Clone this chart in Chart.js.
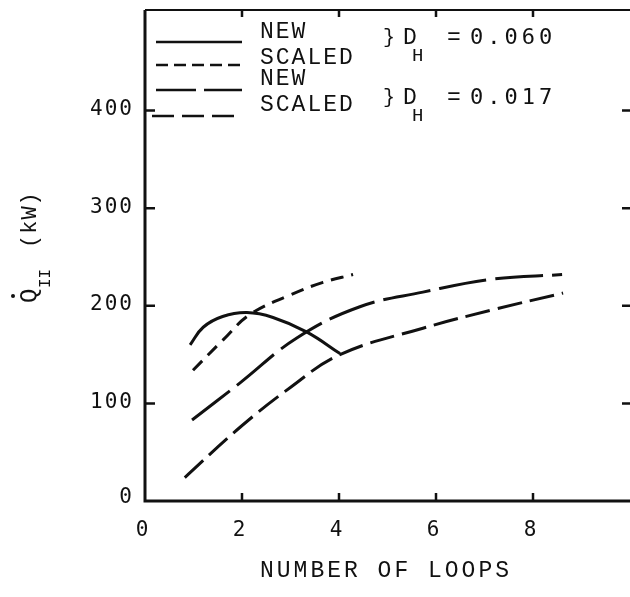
<!DOCTYPE html>
<html lang="en">
<head>
    <meta charset="UTF-8">
    <title>Heat rate vs number of loops</title>
    <style>
        body { margin: 0; background: #fff; }
        canvas { display: block; }
    </style>
</head>
<body>
    <canvas id="chart" width="630" height="597"></canvas>
    <script src="https://cdn.jsdelivr.net/npm/chart.js@4.4.1/dist/chart.umd.min.js"></script>
    <script>
        // values
        const newBigX = [0.93, 1.2, 1.6, 2.1, 2.64, 3.34, 4.02]
        const newBigY = [160, 178, 189, 193, 188, 173, 151]
        const scaledBigX = [0.99, 1.61, 2.16, 2.99, 3.67, 4.29]
        const scaledBigY = [134, 165, 191, 211, 224, 232]
        const newSmallX = [0.97, 1.96, 3.13, 4.43, 5.73, 7.11, 8.6]
        const newSmallY = [83, 121, 167, 199, 214, 227, 232]
        const scaledSmallX = [0.82, 1.9, 2.99, 4.02, 5.73, 7.18, 8.62]
        const scaledSmallY = [24, 73, 116, 150, 177, 196, 213]

        const seriesNames = ['NEW', 'SCALED', 'NEW', 'SCALED']
        const groupValues = ['0.060', '0.017']
        const xTicks = [0, 2, 4, 6, 8]
        const yTicks = [0, 100, 200, 300, 400]
        const xTitle = 'NUMBER OF LOOPS'

        const dashes = [[], [13, 8], [48, 9], [25, 8]]
        const legendDashes = [[], [12, 6], [40, 8], [22, 8]]

        const pts = (xs, ys) => xs.map((x, i) => ({ x: x, y: ys[i] }))

        const series = [
            pts(newBigX, newBigY),
            pts(scaledBigX, scaledBigY),
            pts(newSmallX, newSmallY),
            pts(scaledSmallX, scaledSmallY)
        ]

        const datasets = series.map((data, i) => ({
            label: seriesNames[i],
            data: data,
            borderColor: '#111',
            borderWidth: 3,
            borderDash: dashes[i],
            pointRadius: 0,
            fill: false,
            tension: 0.4
        }))

        const text = (ctx, s, x, y, font, align, spacing) => {
            ctx.font = font
            ctx.letterSpacing = (spacing || 0) + 'px'
            ctx.textAlign = align
            ctx.textBaseline = 'middle'
            ctx.fillText(s, x, y)
        }

        const decor = {
            id: 'decor',
            afterDraw(chart) {
                const ctx = chart.ctx
                const a = chart.chartArea
                const xs = chart.scales.x
                const ys = chart.scales.y
                ctx.save()
                ctx.strokeStyle = '#111'
                ctx.fillStyle = '#111'
                ctx.setLineDash([])

                // frame: left, bottom, top (no right line in the original)
                ctx.lineWidth = 3
                ctx.beginPath()
                ctx.moveTo(a.left, a.top)
                ctx.lineTo(a.left, a.bottom)
                ctx.lineTo(a.right, a.bottom)
                ctx.stroke()
                ctx.lineWidth = 2
                ctx.beginPath()
                ctx.moveTo(a.left, a.top)
                ctx.lineTo(a.right, a.top)
                ctx.stroke()

                // inward tick marks
                ctx.lineWidth = 2.5
                xTicks.slice(1).forEach(v => {
                    const px = xs.getPixelForValue(v)
                    ctx.beginPath()
                    ctx.moveTo(px, a.bottom)
                    ctx.lineTo(px, a.bottom - 8)
                    ctx.moveTo(px, a.top)
                    ctx.lineTo(px, a.top + 7)
                    ctx.stroke()
                })
                yTicks.slice(1).forEach(v => {
                    const py = ys.getPixelForValue(v)
                    ctx.beginPath()
                    ctx.moveTo(a.left, py)
                    ctx.lineTo(a.left + 10, py)
                    ctx.moveTo(a.right - 8, py)
                    ctx.lineTo(a.right, py)
                    ctx.stroke()
                })

                // tick labels
                const numFont = '21px "DejaVu Sans Mono"'
                xTicks.forEach(v => {
                    text(ctx, String(v), xs.getPixelForValue(v) - 3, a.bottom + 30, numFont, 'center', 0)
                })
                yTicks.forEach(v => {
                    const py = ys.getPixelForValue(v)
                    text(ctx, String(v), a.left - 11, v === 0 ? py - 3 : py - 1, numFont, 'right', 2)
                })

                // axis titles
                text(ctx, xTitle, 386, 571, '23px "Liberation Mono"', 'center', 3)

                ctx.save()
                ctx.translate(30, 303)
                ctx.rotate(-Math.PI / 2)
                text(ctx, 'Q', 0, 0, '24px "Liberation Mono"', 'left', 0)
                ctx.beginPath()
                ctx.arc(7, -17, 2, 0, Math.PI * 2)
                ctx.fill()
                text(ctx, 'II', 15, 16, '16px "Liberation Mono"', 'left', 0)
                text(ctx, '(kW)', 55, 0, '22px "Liberation Mono"', 'left', 1)
                ctx.restore()

                // legend
                const rowText = [32, 58, 79, 105]
                const rowLine = [42, 65, 90, 116]
                ctx.lineWidth = 2.6
                seriesNames.forEach((name, i) => {
                    ctx.setLineDash(legendDashes[i])
                    ctx.beginPath()
                    ctx.moveTo(i === 3 ? 152 : 156, rowLine[i])
                    ctx.lineTo(242, rowLine[i])
                    ctx.stroke()
                    ctx.setLineDash([])
                    text(ctx, name, 260, rowText[i], '23px "Liberation Mono"', 'left', 2)
                })
                const groupY = [38, 98]
                groupValues.forEach((val, i) => {
                    const gy = groupY[i]
                    text(ctx, '}', 389, gy, '20px "Liberation Mono"', 'center', 0)
                    text(ctx, 'D', 403, gy, '23px "Liberation Mono"', 'left', 0)
                    text(ctx, 'H', 412, gy + 18, '19px "Liberation Mono"', 'left', 0)
                    text(ctx, '=', 454, gy, '23px "Liberation Mono"', 'center', 0)
                    text(ctx, val, 470, gy, '22px "DejaVu Sans Mono"', 'left', 4)
                })
                ctx.restore()
            }
        }

        const ctx = document.getElementById('chart')
        const chart = new Chart(ctx, {
            type: 'line',
            data: { datasets: datasets },
            options: {
                responsive: false,
                animation: false,
                devicePixelRatio: 1,
                layout: { padding: { left: 145, right: 0, top: 10, bottom: 96 } },
                scales: {
                    x: { type: 'linear', min: 0, max: 10, display: false },
                    y: { type: 'linear', min: 0, max: 503, display: false }
                },
                plugins: {
                    legend: { display: false },
                    tooltip: { enabled: false }
                }
            },
            plugins: [decor]
        })
    </script>
</body>
</html>
